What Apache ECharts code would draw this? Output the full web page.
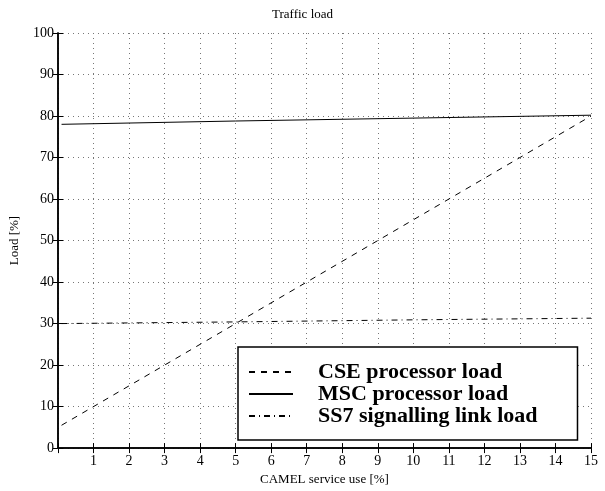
<!DOCTYPE html>
<html>
<head>
<meta charset="utf-8">
<script src="https://cdn.jsdelivr.net/npm/echarts@6/dist/echarts.min.js"></script>
<style>
html,body{margin:0;padding:0;background:#fff;}
#main{width:605px;height:491px;}
</style>
</head>
<body>
<div id="main"></div>
<script>
// data
var camelUse = [0.1, 5, 10, 15];
var cseLoad = [5.5, 30, 55, 80];
var mscLoad = [78, 78.8, 79.5, 80.2];
var ss7Load = [30, 30.4, 30.9, 31.3];
var seriesNames = ['CSE processor load', 'MSC processor load', 'SS7 signalling link load'];

function pairs(ys) {
    return camelUse.map(function (x, i) { return [x, ys[i]]; });
}

var serif = 'Liberation Serif';
var myChart = echarts.init(document.getElementById('main'));

var axisLine = {show: true, lineStyle: {color: '#000', width: 1.5}};
var gridLine = {show: true, lineStyle: {color: '#777', width: 1, type: [1, 4]}};

var option = {
    animation: false,
    title: {
        text: 'Traffic load',
        left: 'center',
        top: 3,
        textStyle: {fontFamily: serif, fontWeight: 'normal', fontSize: 13, color: '#000'}
    },
    grid: {left: 58, right: 14, top: 33, bottom: 39},
    legend: {
        orient: 'vertical',
        left: 238,
        top: 347,
        width: 340,
        height: 94,
        padding: [14, 40, 13, 10],
        itemGap: 0,
        itemWidth: 44,
        itemHeight: 18,
        backgroundColor: '#fff',
        borderColor: '#000',
        borderWidth: 1.5,
        data: seriesNames,
        itemStyle: {color: 'rgba(0,0,0,0)', borderColor: 'rgba(0,0,0,0)', borderWidth: 0},
        textStyle: {fontFamily: serif, fontWeight: 'bold', fontSize: 22, color: '#000', padding: [0, 0, 0, 20]}
    },
    xAxis: [{
        type: 'value',
        min: 0, max: 15, interval: 1,
        name: 'CAMEL service use [%]',
        nameLocation: 'middle',
        nameGap: 20,
        nameTextStyle: {fontFamily: serif, fontSize: 13, color: '#000'},
        axisLine: axisLine,
        axisTick: {show: true, inside: true, length: 5, lineStyle: {color: '#000'}},
        axisLabel: {fontFamily: serif, fontSize: 14, color: '#000', margin: 6,
            formatter: function (v) { return v === 0 ? '' : v; }},
        splitLine: gridLine
    }, {
        type: 'value', position: 'top',
        min: 0, max: 15, interval: 1,
        axisLine: axisLine,
        axisTick: {show: true, inside: true, length: 5, lineStyle: {color: '#000'}},
        axisLabel: {show: false},
        splitLine: {show: false}
    }],
    yAxis: [{
        type: 'value',
        min: 0, max: 100, interval: 10,
        name: 'Load [%]',
        nameLocation: 'middle',
        nameGap: 37,
        nameTextStyle: {fontFamily: serif, fontSize: 13, color: '#000'},
        axisLine: axisLine,
        axisTick: {show: true, inside: true, length: 5, lineStyle: {color: '#000'}},
        axisLabel: {fontFamily: serif, fontSize: 14, color: '#000', margin: 4},
        splitLine: gridLine
    }, {
        type: 'value', position: 'right',
        min: 0, max: 100, interval: 10,
        axisLine: axisLine,
        axisTick: {show: true, inside: true, length: 5, lineStyle: {color: '#000'}},
        axisLabel: {show: false},
        splitLine: {show: false}
    }],
    series: [{
        name: seriesNames[0],
        type: 'line',
        symbol: 'none',
        data: pairs(cseLoad),
        itemStyle: {color: '#000'},
        lineStyle: {color: '#000', width: 1, type: [6, 6]}
    }, {
        name: seriesNames[1],
        type: 'line',
        symbol: 'none',
        data: pairs(mscLoad),
        itemStyle: {color: '#000'},
        lineStyle: {color: '#000', width: 1, type: 'solid'}
    }, {
        name: seriesNames[2],
        type: 'line',
        symbol: 'none',
        data: pairs(ss7Load),
        itemStyle: {color: '#000'},
        lineStyle: {color: '#000', width: 1, type: [6, 4, 1, 4]}
    }]
};

myChart.setOption(option);
</script>
</body>
</html>
